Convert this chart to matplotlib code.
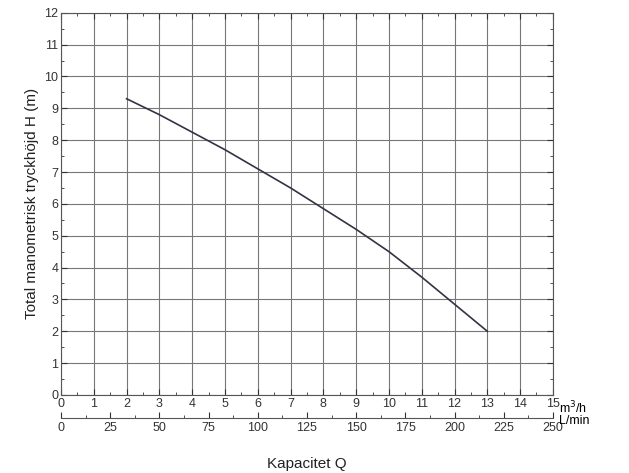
import numpy as np
import matplotlib.pyplot as plt
from matplotlib.ticker import MultipleLocator

plt.rcParams['font.family'] = ['Liberation Sans', 'DejaVu Sans']

q_m3h = [2, 3, 4, 5, 6, 7, 8, 9, 10, 11, 12, 13]
head_m = [9.3, 8.8, 8.25, 7.7, 7.1, 6.5, 5.85, 5.2, 4.5, 3.7, 2.85, 2.0]

fig = plt.figure(figsize=(6.29, 4.73), dpi=100)
ax = fig.add_axes([0.097, 0.165, 0.782, 0.808])
ax.plot(q_m3h, head_m, color='#333344', lw=1.2)

ax.set_xlim(0, 15)
ax.set_ylim(0, 12)
ax.xaxis.set_major_locator(MultipleLocator(1))
ax.xaxis.set_minor_locator(MultipleLocator(0.5))
ax.yaxis.set_major_locator(MultipleLocator(1))
ax.yaxis.set_minor_locator(MultipleLocator(0.5))
ax.grid(True, which='major', color='#777777', lw=0.8)
ax.tick_params(which='both', direction='in', top=True, right=True, labelsize=9, colors='#333333', pad=2)
ax.tick_params(which='major', length=4)
ax.tick_params(which='minor', length=2)
for s in ax.spines.values():
    s.set_color('#555555')
ax.set_ylabel('Total manometrisk tryckhöjd H (m)', fontsize=11, color='#222222')

ax.text(1.012, -0.033, 'm$^3$/h', transform=ax.transAxes, fontsize=9, va='center')

sec = ax.secondary_xaxis(-0.06, functions=(lambda x: x * 1000 / 60, lambda x: x * 60 / 1000))
sec.xaxis.set_major_locator(MultipleLocator(25))
sec.xaxis.set_minor_locator(MultipleLocator(12.5))
sec.tick_params(which='both', direction='in', labelsize=9, colors='#333333', pad=3)
sec.tick_params(which='major', length=4)
sec.tick_params(which='minor', length=2)
sec.spines['bottom'].set_color('#555555')
ax.text(1.012, -0.068, 'L/min', transform=ax.transAxes, fontsize=9, va='center')

fig.text(0.488, 0.01, 'Kapacitet Q', ha='center', fontsize=11, color='#222222')
fig.savefig('out.png')
